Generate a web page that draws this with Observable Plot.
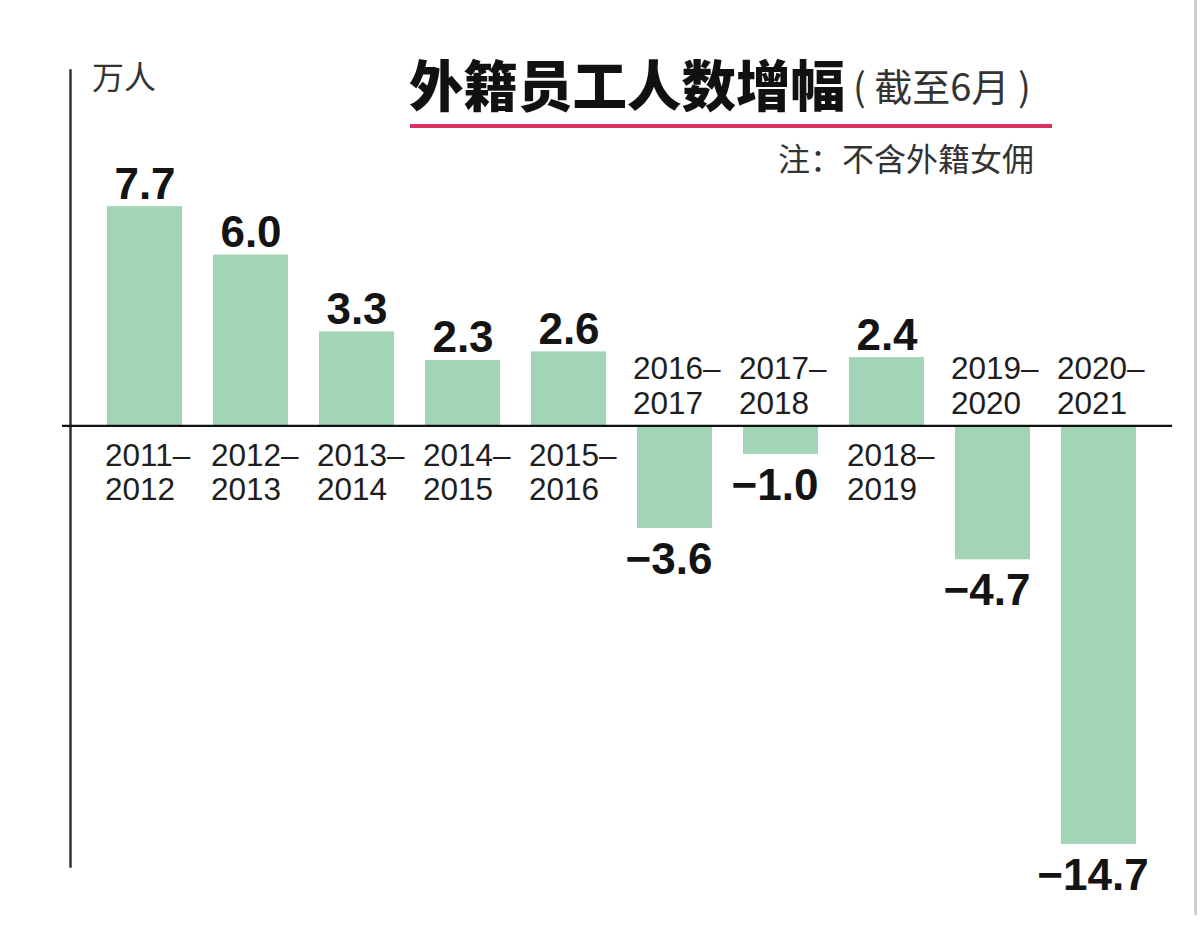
<!DOCTYPE html>
<html>
<head>
<meta charset="utf-8">
<script src="https://cdn.jsdelivr.net/npm/d3@7"></script>
<script src="https://cdn.jsdelivr.net/npm/@observablehq/plot@0.6"></script>
<style>
  html, body { margin: 0; padding: 0; background: #fff; }
  #wrap { position: relative; width: 1200px; height: 925px; overflow: hidden; }
  #wrap svg { position: absolute; left: 0; top: 0; }
  .abs { position: absolute; white-space: nowrap; line-height: 1; font-family: "Noto Sans CJK SC", sans-serif; }
</style>
</head>
<body>
<div id="wrap">
  <div class="abs" id="unit" style="left:92px; top:59px; font-size:32px; color:#333;"></div>
  <div class="abs" id="title" style="left:409px; top:56px; font-size:54.5px; font-weight:900; color:#111;"></div>
  <div class="abs" id="period" style="left:853px; top:66px; font-size:38px; color:#333;"></div>
  <div class="abs" style="left:410px; top:124px; width:642px; height:4px; background:#d7325f;"></div>
  <div class="abs" id="note" style="left:778px; top:141px; font-size:32px; color:#333;"></div>
  <div class="abs" style="left:1194px; top:0px; width:3px; height:915px; background:#cfcfcf;"></div>
</div>
<script>
// ---- data ----
const periods = ["2011–\n2012", "2012–\n2013", "2013–\n2014", "2014–\n2015", "2015–\n2016",
                 "2016–\n2017", "2017–\n2018", "2018–\n2019", "2019–\n2020", "2020–\n2021"];
const values = [7.7, 6.0, 3.3, 2.3, 2.6, -3.6, -1.0, 2.4, -4.7, -14.7];
const valueLabels = ["7.7", "6.0", "3.3", "2.3", "2.6", "−3.6", "−1.0", "2.4", "−4.7", "−14.7"];
const titleText = "外籍员工人数增幅";
const periodText = "( 截至6月 )";
const noteText = "注：不含外籍女佣";
const unitText = "万人";

document.getElementById("title").textContent = titleText;
document.getElementById("period").textContent = periodText;
document.getElementById("note").textContent = noteText;
document.getElementById("unit").textContent = unitText;

const data = periods.map((p, i) => ({period: p, value: values[i], label: valueLabels[i]}));
const pos = data.filter(d => d.value >= 0);
const neg = data.filter(d => d.value < 0);

const numFont = "Liberation Sans, Arial, sans-serif";

const chart = Plot.plot({
  width: 1200,
  height: 925,
  marginLeft: 70,
  marginRight: 28,
  marginTop: 70,
  marginBottom: 59,
  style: {background: "transparent", overflow: "visible"},
  x: {domain: periods, paddingInner: 0.2947, paddingOuter: 0.329, axis: null},
  y: {domain: [-15.47, 12.48], axis: null},
  marks: [
    Plot.barY(data, {x: "period", y: "value", fill: "#a3d4b5"}),
    Plot.frame({anchor: "left", stroke: "#333", strokeWidth: 2.5}),
    Plot.ruleY([0], {stroke: "#111", strokeWidth: 2.2, insetLeft: -8}),
    // value labels
    Plot.text(pos, {x: "period", y: "value", text: "label", lineAnchor: "bottom", dy: -8,
      fontSize: 44, fontWeight: "bold", fontFamily: numFont, fill: "#141414"}),
    Plot.text(neg, {x: "period", y: "value", text: "label", lineAnchor: "top", dy: 14, dx: -6,
      fontSize: 44, fontWeight: "bold", fontFamily: numFont, fill: "#141414"}),
    // category labels
    Plot.text(pos, {x: "period", y: () => 0, text: "period", lineAnchor: "top", dy: 15, dx: -40,
      textAnchor: "start", lineHeight: 1.1, fontSize: 31.5, fontFamily: numFont, fill: "#1e1e1e"}),
    Plot.text(neg, {x: "period", y: () => 0, text: "period", lineAnchor: "bottom", dy: -12, dx: -42,
      textAnchor: "start", lineHeight: 1.1, fontSize: 31.5, fontFamily: numFont, fill: "#1e1e1e"})
  ]
});
document.getElementById("wrap").prepend(chart);
</script>
</body>
</html>
